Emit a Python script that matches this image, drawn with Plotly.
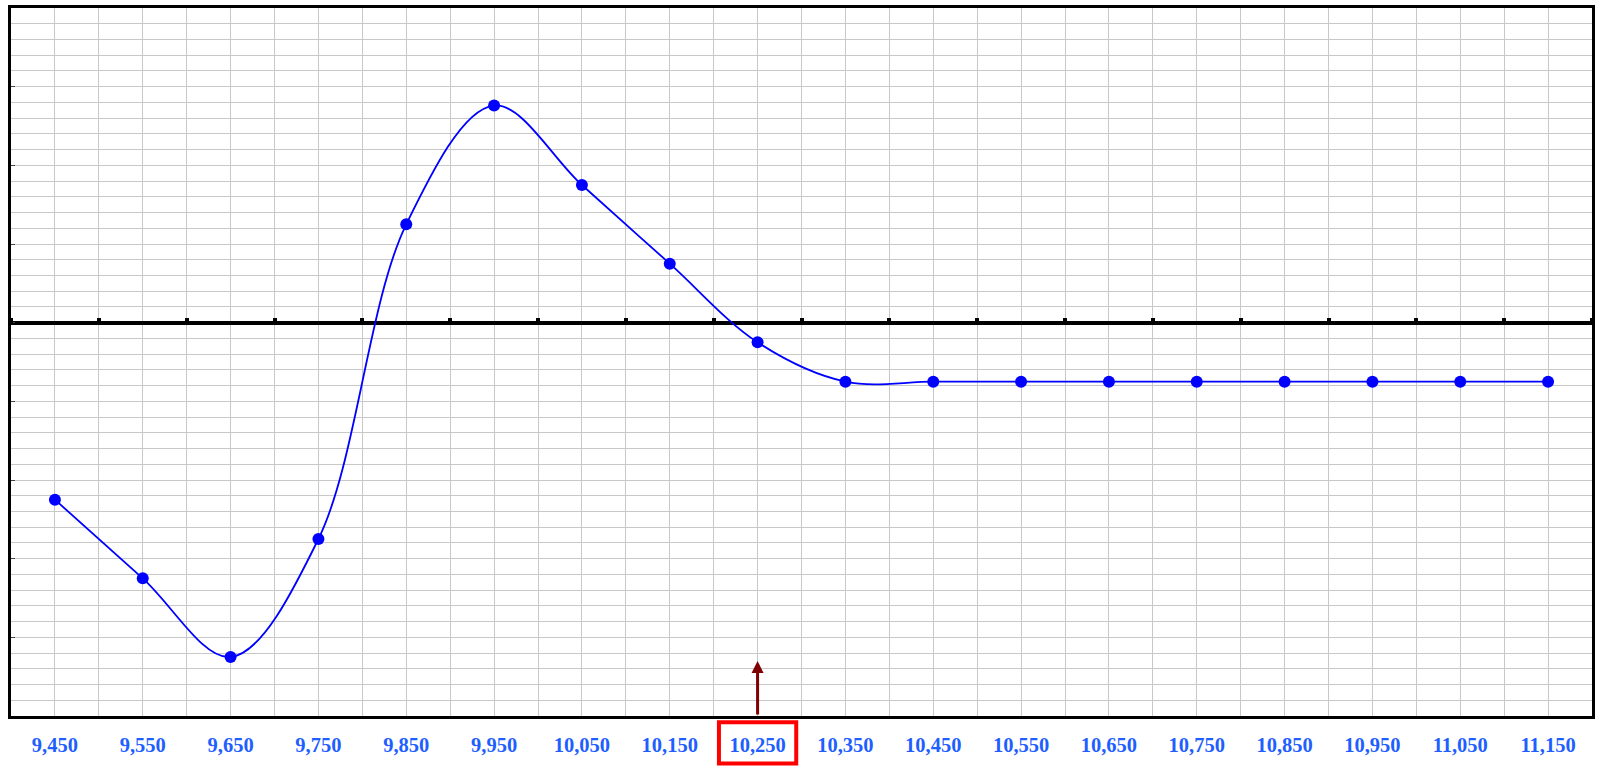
import plotly.graph_objects as go

strikes = [9450, 9550, 9650, 9750, 9850, 9950, 10050, 10150, 10250, 10350,
           10450, 10550, 10650, 10750, 10850, 10950, 11050, 11150]
values = [-2.25, -3.25, -4.25, -2.75, 1.25, 2.76, 1.75, 0.75, -0.25, -0.75,
          -0.75, -0.75, -0.75, -0.75, -0.75, -0.75, -0.75, -0.75]
tick_labels = [f"{s:,}" for s in strikes]
highlight = 10250
x_range = [9400, 11200]
y_range = [-5, 4]

fig = go.Figure()
fig.add_trace(go.Scatter(
    x=strikes, y=values, mode="lines+markers",
    line=dict(color="#0000FF", width=1.8, shape="spline", smoothing=1),
    marker=dict(color="#0000FF", size=12),
    showlegend=False, hoverinfo="x+y",
))
# invisible trace on the zero-line axis for tick marks
fig.add_trace(go.Scatter(x=x_range, y=[0, 0], xaxis="x2", mode="lines",
                         line=dict(width=0), showlegend=False, hoverinfo="skip"))

grid = "#C8C8C8"
fig.update_layout(
    width=1600, height=771,
    margin=dict(l=11, r=5, t=8, b=55),
    paper_bgcolor="white", plot_bgcolor="white",
    xaxis=dict(
        range=x_range, tickmode="array", tickvals=strikes, ticktext=tick_labels,
        showgrid=True, gridcolor=grid, gridwidth=1,
        minor=dict(dtick=50, tick0=9400, showgrid=True, gridcolor=grid, gridwidth=1),
        showline=True, linecolor="black", linewidth=3, mirror=True,
        ticks="", zeroline=False,
        tickfont=dict(family="Liberation Serif", size=20.5, color="#1F5FFF", weight="bold"),
        ticklabelstandoff=8,
    ),
    xaxis2=dict(
        range=x_range, overlaying="x", anchor="free", position=(0 - y_range[0]) / (y_range[1] - y_range[0]),
        side="top", tickmode="linear", tick0=9400, dtick=100,
        ticks="outside", ticklen=5, tickwidth=4, tickcolor="black",
        showticklabels=False, showgrid=False, showline=False, zeroline=False,
    ),
    yaxis=dict(
        range=y_range, tickmode="linear", tick0=0, dtick=1,
        showgrid=True, gridcolor=grid, gridwidth=1,
        minor=dict(dtick=0.2, tick0=0, showgrid=True, gridcolor=grid, gridwidth=1),
        showline=True, linecolor="black", linewidth=3, mirror=True,
        ticks="inside", ticklen=4, tickwidth=1, tickcolor="#444",
        showticklabels=False,
        zeroline=True, zerolinecolor="black", zerolinewidth=4,
    ),
    shapes=[dict(
        type="rect", xref="x", yref="paper",
        x0=highlight - 44, x1=highlight + 44, y0=-0.067, y1=-0.009,
        line=dict(color="#FF0000", width=4), fillcolor="rgba(0,0,0,0)",
    )],
    annotations=[dict(
        x=highlight, y=-4.3, xref="x", yref="y",
        ax=highlight, ay=y_range[0], axref="x", ayref="y",
        showarrow=True, arrowhead=2, arrowsize=0.8, arrowwidth=3,
        arrowcolor="#7F0000", text="",
    )],
)

fig.write_html(
    "out.html",
    config={"displayModeBar": False},
    post_script="document.body.style.margin='0';document.body.style.overflow='hidden';",
)
